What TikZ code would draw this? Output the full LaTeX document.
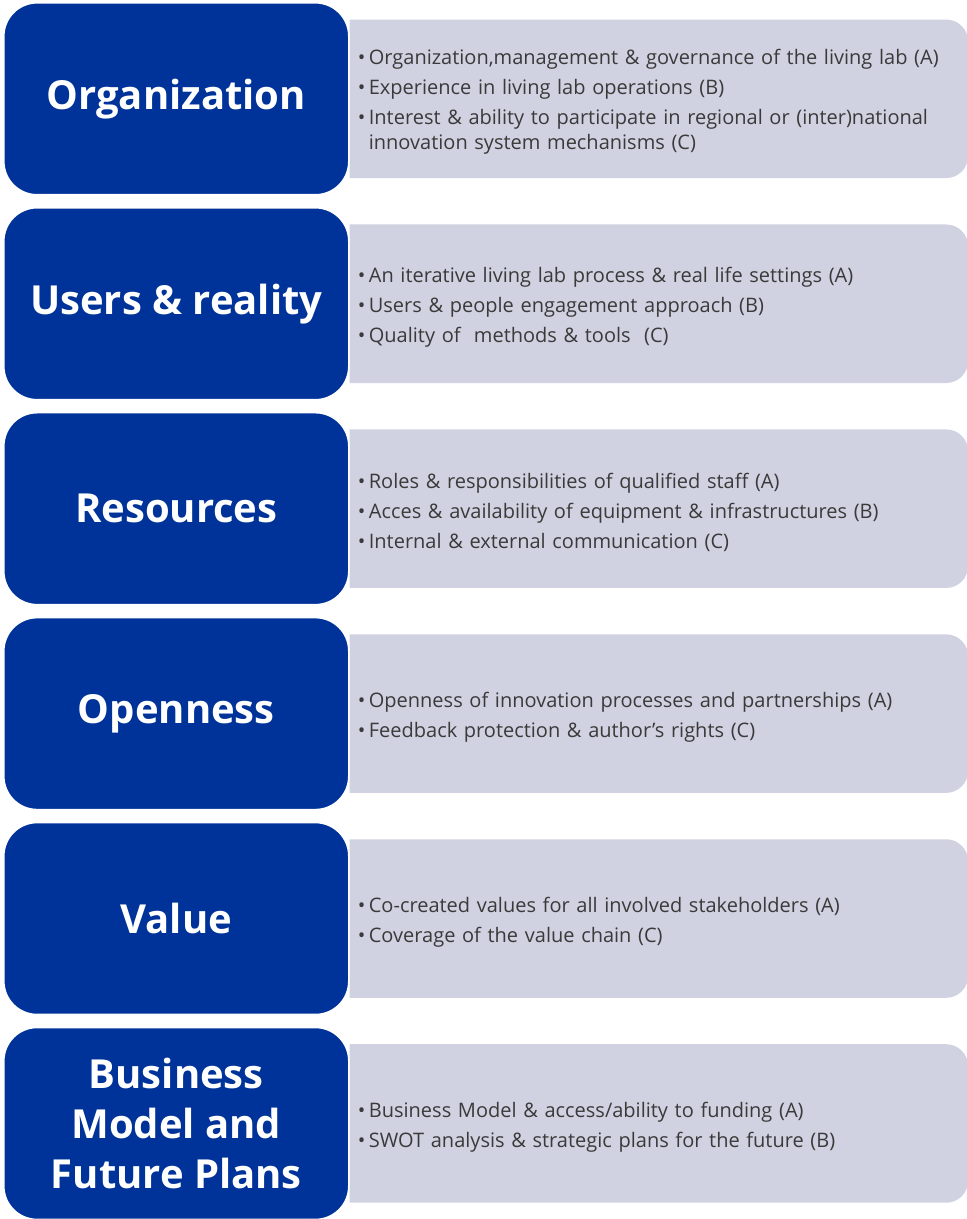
\documentclass[tikz,border=0pt]{standalone}
\usepackage{fontspec}
\setmainfont{Open Sans}
\usepackage{xcolor}
\usepackage{tikz}
\usetikzlibrary{positioning,backgrounds}

\definecolor{areablue}{RGB}{0,51,153}
\definecolor{bandgray}{RGB}{208,210,225}
\definecolor{itemgray}{RGB}{58,58,58}

\newcommand{\bitem}[1]{\par\noindent\hspace*{-8.25pt}\makebox[8.25pt][l]{\textbullet}#1}

\begin{document}
\begin{tikzpicture}
		[
			every node/.style={inner sep=0pt},
			area/.style={
					fill=areablue,draw=white,line width=1.2pt,rounded corners=25pt,
					minimum width=258.75pt,minimum height=144pt,text=white,align=center,
					font=\fontsize{30}{37.5}\selectfont\bfseries},
			items/.style={
					minimum width=463.5pt,minimum height=118.5pt,text width=451.5pt,
					inner xsep=6pt,align=left,text=itemgray,
					font=\fontsize{15}{18.75}\selectfont,
					execute at begin node={\vspace*{-6pt}\setlength{\parskip}{3.75pt}\leftskip=8.25pt},
					execute at end node=\endgraf},
			band/.style={fill=bandgray}]
		\useasboundingbox (0,0) rectangle (724.5pt,-914.25pt);

		% left column
		\node[area,anchor=north west] (Org) at (2.25pt,-1.5pt) {Organization};
		\node[area,below=8.5pt of Org] (Users) {Users \& reality};
		\node[area,below=8.5pt of Users] (Res) {Resources};
		\node[area,below=8.5pt of Res] (Open) {Openness};
		\node[area,below=8.5pt of Open] (Val) {Value};
		\node[area,below=8.5pt of Val] (Bus) {Business\\Model and\\Future Plans};

		% right column
		\node[items,right=0pt of Org] (Org-items) {
			\bitem{Organization,management \& governance of the living lab (A)}
			\bitem{Experience in living lab operations (B)}
			\bitem{Interest \& ability to participate in regional or (inter)national\newline innovation system mechanisms (C)}};
		\node[items,right=0pt of Users] (Users-items) {
			\bitem{An iterative living lab process \& real life settings (A)}
			\bitem{Users \& people engagement approach (B)}
			\bitem{Quality of\ \ methods \& tools\ \ (C)}};
		\node[items,right=0pt of Res] (Res-items) {
			\bitem{Roles \& responsibilities of qualified staff (A)}
			\bitem{Acces \& availability of equipment \& infrastructures (B)}
			\bitem{Internal \& external communication (C)}};
		\node[items,right=0pt of Open] (Open-items) {
			\bitem{Openness of innovation processes and partnerships (A)}
			\bitem{Feedback protection \& author’s rights (C)}};
		\node[items,right=0pt of Val] (Val-items) {
			\bitem{Co-created values for all involved stakeholders (A)}
			\bitem{Coverage of the value chain (C)}};
		\node[items,right=0pt of Bus] (Bus-items) {
			\bitem{Business Model \& access/ability to funding (A)}
			\bitem{SWOT analysis \& strategic plans for the future (B)}};

		\begin{scope}[on background layer]
			\foreach \row in {Org,Users,Res,Open,Val,Bus}
				{
					\fill[band] (\row-items.north) [rounded corners=16.5pt]
					-- (\row-items.north east) -- (\row-items.south east)
					-- (\row-items.south) [sharp corners]
					-- (\row-items.south west) -- (\row-items.north west) -- cycle;
				}
		\end{scope}
	\end{tikzpicture}
\end{document}
